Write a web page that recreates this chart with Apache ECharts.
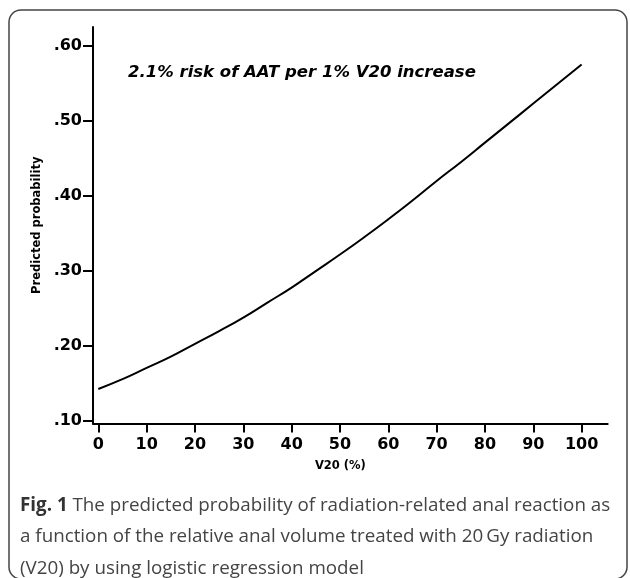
<!DOCTYPE html>
<html>
<head>
<meta charset="utf-8">
<script src="https://cdn.jsdelivr.net/npm/echarts@6/dist/echarts.min.js"></script>
<style>
  html, body { margin: 0; padding: 0; background: #fff; }
  #chart { width: 630px; height: 578px; }
</style>
</head>
<body>
<div id="chart"></div>
<script>
// V20 (%) values along the curve
const v20 = [0, 5, 10, 15, 20, 25, 30, 35, 40, 45, 50, 55, 60, 65, 70, 75, 80, 85, 90, 95, 100];
// Predicted probability
const predicted = [0.143, 0.156, 0.171, 0.186, 0.203, 0.220, 0.238, 0.258, 0.278, 0.300, 0.322, 0.345, 0.369, 0.394, 0.420, 0.445, 0.471, 0.497, 0.523, 0.549, 0.575];
// Tick labels
const xTicks = [0, 10, 20, 30, 40, 50, 60, 70, 80, 90, 100];
const yTicks = [0.10, 0.20, 0.30, 0.40, 0.50, 0.60];

const annotation = '2.1% risk of AAT per 1% V20 increase';
const xName = 'V20 (%)';
const yName = 'Predicted probability';
const captionBold = 'Fig. 1';
const captionLines = [
  ' The predicted probability of radiation-related anal reaction as',
  'a function of the relative anal volume treated with 20\u2009Gy radiation',
  '(V20) by using logistic regression model'
];

const chart = echarts.init(document.getElementById('chart'), null, { renderer: 'canvas' });
const axisFont = 'DejaVu Sans';

const option = {
  backgroundColor: '#ffffff',
  animation: false,
  grid: { left: 93, right: 22.3, top: 27, bottom: 154.5, containLabel: false },
  xAxis: {
    type: 'value',
    min: -1.1,
    max: 105.4,
    splitLine: { show: false },
    axisLine: { show: true, onZero: false, lineStyle: { color: '#000', width: 2 } },
    axisTick: { show: true, customValues: xTicks, length: 9, lineStyle: { color: '#000', width: 2 } },
    axisLabel: {
      customValues: xTicks,
      margin: 13,
      color: '#000',
      fontFamily: axisFont,
      fontWeight: 'bold',
      fontSize: 16
    },
    name: xName,
    nameLocation: 'middle',
    nameGap: 37,
    nameTextStyle: {
      color: '#000', fontFamily: axisFont, fontWeight: 'bold', fontSize: 11.5,
      padding: [0, 20, 0, 0]
    }
  },
  yAxis: {
    type: 'value',
    min: 0.097,
    max: 0.625,
    splitLine: { show: false },
    axisLine: { show: true, onZero: false, lineStyle: { color: '#000', width: 2 } },
    axisTick: { show: true, customValues: yTicks, length: 10, lineStyle: { color: '#000', width: 2 } },
    axisLabel: {
      customValues: yTicks,
      margin: 11,
      color: '#000',
      fontFamily: axisFont,
      fontWeight: 'bold',
      fontSize: 16,
      formatter: function (v) { return v.toFixed(2).replace(/^0/, ''); }
    },
    name: yName,
    nameLocation: 'middle',
    nameGap: 47,
    nameTextStyle: { color: '#000', fontFamily: axisFont, fontWeight: 'bold', fontSize: 11.5 }
  },
  series: [{
    type: 'line',
    data: v20.map((x, i) => [x, predicted[i]]),
    smooth: true,
    showSymbol: false,
    lineStyle: { color: '#000', width: 2 },
    silent: true
  }],
  graphic: [
    {
      type: 'rect',
      shape: { x: 9, y: 10, width: 618, height: 569, r: 12 },
      style: { fill: 'none', stroke: '#444', lineWidth: 1.5 },
      silent: true
    },
    {
      type: 'text',
      left: 128,
      top: 64,
      style: {
        text: annotation,
        fill: '#000',
        font: 'italic bold 16.5px "DejaVu Sans"'
      }
    },
    {
      type: 'text',
      left: 20,
      top: 496,
      style: {
        text: '{b|' + captionBold + '}{r|' + captionLines[0] + '}\n{r|' + captionLines[1] + '}\n{r|' + captionLines[2] + '}',
        rich: {
          b: { fontFamily: 'Open Sans', fontWeight: 'bold', fontSize: 18.8, fill: '#333', lineHeight: 31.5 },
          r: { fontFamily: 'Open Sans', fontWeight: 'normal', fontSize: 18.8, fill: '#444', lineHeight: 31.5 }
        }
      }
    }
  ]
};
chart.setOption(option);
</script>
</body>
</html>
